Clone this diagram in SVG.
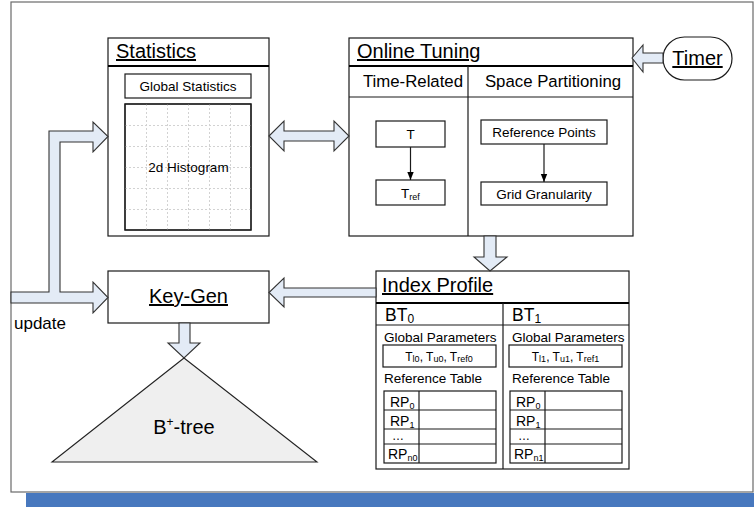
<svg xmlns="http://www.w3.org/2000/svg" width="754" height="507" viewBox="0 0 754 507">
  <defs>
    <style>
      text { font-family: "Liberation Sans", Arial, sans-serif; fill: #000; }
      .box { fill: #fff; stroke: #1a1a1a; stroke-width: 1.2; }
      .thin { fill: none; stroke: #1a1a1a; stroke-width: 1.2; }
      .head { stroke: #000; stroke-width: 2.2; }
      .title { font-size: 20px; text-decoration: underline; }
      .col { font-size: 16.8px; }
      .lbl { font-size: 13.5px; }
      .bt { font-size: 17.5px; }
      .sub { font-size: 9px; }
      .grid { stroke: #d2d2d2; stroke-width: 1; stroke-dasharray: 2 2; }
      .blk { fill: #e3ebf6; stroke: #333; stroke-width: 1.1; stroke-linejoin: miter; }
    </style>
    <marker id="tip" viewBox="0 0 10 10" refX="10" refY="5" markerWidth="7" markerHeight="7" orient="auto">
      <path d="M0,1 L10,5 L0,9 z" fill="#000"/>
    </marker>
  </defs>

  <!-- frame and footer band -->
  <rect x="26" y="493" width="728" height="14" fill="#4878be"/>
  <rect x="11" y="2" width="742" height="490" fill="#fff" stroke="#6a6a6a" stroke-width="1.2"/>

  <!-- Statistics -->
  <g id="statistics">
    <rect class="box" x="108" y="38" width="161" height="198"/>
    <line class="head" x1="108" y1="66" x2="269" y2="66"/>
    <text class="title" x="116" y="58">Statistics</text>
    <rect class="box" x="125" y="74" width="126" height="24"/>
    <text class="lbl" x="188" y="91" text-anchor="middle">Global Statistics</text>
    <rect class="box" x="125" y="104" width="126" height="126"/>
    <g class="grid">
      <line x1="146.5" y1="104" x2="146.5" y2="230"/>
      <line x1="167.5" y1="104" x2="167.5" y2="230"/>
      <line x1="188.5" y1="104" x2="188.5" y2="230"/>
      <line x1="209.5" y1="104" x2="209.5" y2="230"/>
      <line x1="230.5" y1="104" x2="230.5" y2="230"/>
      <line x1="125" y1="125.5" x2="251" y2="125.5"/>
      <line x1="125" y1="146.5" x2="251" y2="146.5"/>
      <line x1="125" y1="167.5" x2="251" y2="167.5"/>
      <line x1="125" y1="188.5" x2="251" y2="188.5"/>
      <line x1="125" y1="209.5" x2="251" y2="209.5"/>
    </g>
    <rect x="125" y="104" width="126" height="126" fill="none" stroke="#1a1a1a" stroke-width="1.2"/>
    <text class="lbl" x="188.5" y="172" text-anchor="middle">2d Histogram</text>
  </g>

  <!-- Online Tuning -->
  <g id="online-tuning">
    <rect class="box" x="349" y="38" width="284" height="198"/>
    <line class="head" x1="349" y1="66" x2="633" y2="66"/>
    <text class="title" x="357" y="58">Online Tuning</text>
    <line class="thin" x1="349" y1="97" x2="633" y2="97"/>
    <line class="thin" x1="468" y1="66" x2="468" y2="236"/>
    <text class="col" x="413" y="87" text-anchor="middle">Time-Related</text>
    <text class="col" x="553" y="87" text-anchor="middle">Space Partitioning</text>
    <rect class="box" x="376" y="121" width="69" height="26"/>
    <text class="lbl" x="410.5" y="139" text-anchor="middle">T</text>
    <rect class="box" x="376" y="180" width="69" height="25"/>
    <text class="lbl" x="410.5" y="198" text-anchor="middle">T<tspan class="sub" dy="2">ref</tspan></text>
    <line class="thin" x1="410.5" y1="147" x2="410.5" y2="180" marker-end="url(#tip)"/>
    <rect class="box" x="481" y="120" width="126" height="24"/>
    <text class="lbl" x="544" y="137" text-anchor="middle">Reference Points</text>
    <rect class="box" x="481" y="182" width="126" height="23"/>
    <text class="lbl" x="544" y="199" text-anchor="middle">Grid Granularity</text>
    <line class="thin" x1="544" y1="144" x2="544" y2="182" marker-end="url(#tip)"/>
  </g>

  <!-- Timer -->
  <g id="timer">
    <rect class="box" x="663" y="37" width="69" height="43" rx="21.5" ry="21.5"/>
    <text class="title" x="697.5" y="65" text-anchor="middle">Timer</text>
  </g>

  <!-- Key-Gen -->
  <g id="key-gen">
    <rect class="box" x="108" y="271" width="161" height="52"/>
    <text class="title" x="188.5" y="303" text-anchor="middle">Key-Gen</text>
  </g>

  <!-- B+-tree -->
  <g id="bplus-tree">
    <polygon points="184,358 52,462 317,462" fill="#efefef" stroke="#222" stroke-width="1.1"/>
    <text x="184" y="434" font-size="20" text-anchor="middle">B<tspan font-size="12" dy="-8">+</tspan><tspan dy="8">-tree</tspan></text>
  </g>

  <!-- update label -->
  <g id="update">
    <text x="14" y="329" font-size="17">update</text>
  </g>

  <!-- Index Profile -->
  <g id="index-profile">
    <rect class="box" x="376" y="271" width="253" height="198"/>
    <line class="head" x1="376" y1="303" x2="629" y2="303"/>
    <text class="title" x="382" y="292">Index Profile</text>
    <line class="thin" x1="503" y1="303" x2="503" y2="469"/>
    <line class="thin" x1="376" y1="325" x2="629" y2="325"/>

    <!-- BT0 column -->
    <text class="bt" x="385" y="321">BT<tspan font-size="12" dy="2">0</tspan></text>
    <text class="lbl" x="384" y="342">Global Parameters</text>
    <rect class="box" x="383" y="345" width="113" height="22"/>
    <text x="439" y="361" font-size="12" text-anchor="middle">T<tspan class="sub" dy="1">l0</tspan><tspan dy="-1">, T</tspan><tspan class="sub" dy="1">u0</tspan><tspan dy="-1">, T</tspan><tspan class="sub" dy="1">ref0</tspan></text>
    <text class="lbl" x="384" y="383">Reference Table</text>
    <rect class="box" x="384" y="391" width="112" height="72"/>
    <line class="thin" x1="419" y1="391" x2="419" y2="463"/>
    <line class="thin" x1="384" y1="410" x2="496" y2="410"/>
    <line class="thin" x1="384" y1="429" x2="496" y2="429"/>
    <line class="thin" x1="384" y1="444" x2="496" y2="444"/>
    <text x="390" y="407" font-size="14">RP<tspan font-size="9" dy="2">0</tspan></text>
    <text x="390" y="426" font-size="14">RP<tspan font-size="9" dy="2">1</tspan></text>
    <text x="392" y="440" font-size="12">…</text>
    <text x="388" y="459" font-size="14">RP<tspan font-size="9" dy="2">n0</tspan></text>

    <!-- BT1 column -->
    <text class="bt" x="512" y="321">BT<tspan font-size="12" dy="2">1</tspan></text>
    <text class="lbl" x="512" y="342">Global Parameters</text>
    <rect class="box" x="509" y="345" width="113" height="22"/>
    <text x="565.5" y="361" font-size="12" text-anchor="middle">T<tspan class="sub" dy="1">l1</tspan><tspan dy="-1">, T</tspan><tspan class="sub" dy="1">u1</tspan><tspan dy="-1">, T</tspan><tspan class="sub" dy="1">ref1</tspan></text>
    <text class="lbl" x="512" y="383">Reference Table</text>
    <rect class="box" x="510" y="391" width="112" height="72"/>
    <line class="thin" x1="545" y1="391" x2="545" y2="463"/>
    <line class="thin" x1="510" y1="410" x2="622" y2="410"/>
    <line class="thin" x1="510" y1="429" x2="622" y2="429"/>
    <line class="thin" x1="510" y1="444" x2="622" y2="444"/>
    <text x="516" y="407" font-size="14">RP<tspan font-size="9" dy="2">0</tspan></text>
    <text x="516" y="426" font-size="14">RP<tspan font-size="9" dy="2">1</tspan></text>
    <text x="518" y="440" font-size="12">…</text>
    <text x="514" y="459" font-size="14">RP<tspan font-size="9" dy="2">n1</tspan></text>
  </g>

  <!-- block arrows between components -->
  <g id="connectors">
    <polygon class="blk" points="11,292 49,292 49,131 93,131 93,122 108,136.5 93,152 93,142 60,142 60,292 93,292 93,282 108,297.5 93,313 93,303 11,303"/>
    <polygon class="blk" points="269,136 284,121 284,131 334,131 334,121 349,136 334,151 334,141 284,141 284,151"/>
    <polygon class="blk" points="632,58 643,45 643,53 663,53 663,63 643,63 643,72"/>
    <polygon class="blk" points="484,236 484,257 474,257 490,271 507,257 496,257 496,236"/>
    <polygon class="blk" points="376,288 284,288 284,278 269,292.5 284,307 284,297 376,297"/>
    <polygon class="blk" points="179,323 179,343 168,343 184,358 200,343 190,343 190,323"/>
  </g>
</svg>
